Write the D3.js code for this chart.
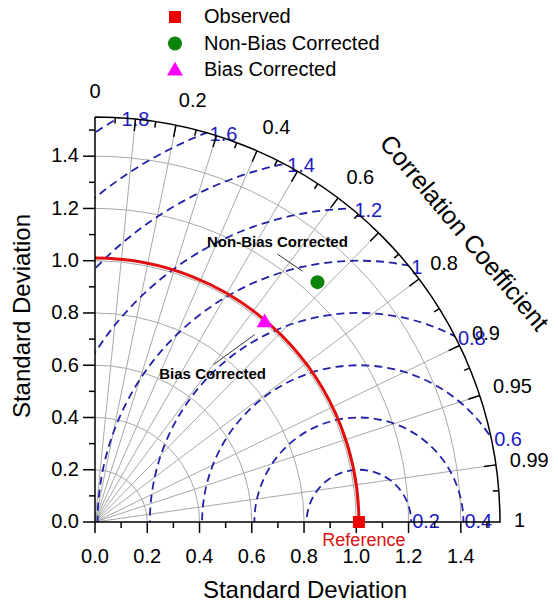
<!DOCTYPE html>
<html>
<head>
<meta charset="utf-8">
<script src="https://cdn.jsdelivr.net/npm/d3@7"></script>
<style>
  body { margin: 0; background: #fff; }
  text { font-family: "Liberation Sans", Arial, sans-serif; }
</style>
</head>
<body>
<div id="chart"></div>
<script>
// chart values
const refStd = 1.01;
const maxStd = 1.55;
const stdTicks = [0, 0.2, 0.4, 0.6, 0.8, 1.0, 1.2, 1.4];
const stdMinor = [0.1, 0.3, 0.5, 0.7, 0.9, 1.1, 1.3, 1.5];
const corrLines = [0.1, 0.2, 0.3, 0.4, 0.5, 0.6, 0.7, 0.8, 0.9, 0.95, 0.99];
const corrLabels = [0, 0.2, 0.4, 0.6, 0.8, 0.9, 0.95, 0.99, 1];
const corrMajor = [0.1, 0.2, 0.3, 0.4, 0.5, 0.6, 0.7, 0.8, 0.9, 0.95, 0.99];
const corrMinor = [0.05, 0.15, 0.25, 0.35, 0.45, 0.55, 0.65, 0.75, 0.85, 0.925, 0.997];
const rmsLevels = [0.2, 0.4, 0.6, 0.8, 1.0, 1.2, 1.4, 1.6, 1.8];
const modelNames = ["Non-Bias Corrected", "Bias Corrected"];
const modelStd = [1.252, 1.002];
const modelCorr = [0.680, 0.648];
const legendNames = ["Observed", "Non-Bias Corrected", "Bias Corrected"];

const width = 558, height = 606;
const ox = 95, oy = 522;

const svg = d3.select("#chart").append("svg")
    .attr("width", width)
    .attr("height", height);

const r = d3.scaleLinear().domain([0, maxStd]).range([0, 405]);
const R = r(maxStd);

function pt(s, c) {
    const a = Math.acos(c);
    return [ox + r(s) * Math.cos(a), oy - r(s) * Math.sin(a)];
}

// clip to quarter disc
svg.append("clipPath").attr("id", "quarter")
  .append("path")
    .attr("d", `M${ox},${oy} L${ox + R},${oy} A${R},${R} 0 0 0 ${ox},${oy - R} Z`);

const grid = svg.append("g").attr("clip-path", "url(#quarter)");

// grey std arcs
grid.selectAll(".sarc")
    .data(stdTicks.filter(d => d > 0))
    .enter().append("path")
    .attr("fill", "none")
    .attr("stroke", "#a8a8a8")
    .attr("stroke-width", 1)
    .attr("d", d => `M${ox + r(d)},${oy} A${r(d)},${r(d)} 0 0 0 ${ox},${oy - r(d)}`);

// grey correlation rays
grid.selectAll(".ray")
    .data(corrLines)
    .enter().append("line")
    .attr("stroke", "#a8a8a8")
    .attr("stroke-width", 1)
    .attr("x1", ox).attr("y1", oy)
    .attr("x2", d => pt(maxStd, d)[0])
    .attr("y2", d => pt(maxStd, d)[1]);

// rms circles
const blue = "#2222a6";
grid.selectAll(".rms")
    .data(rmsLevels)
    .enter().append("circle")
    .attr("cx", ox + r(refStd))
    .attr("cy", oy)
    .attr("r", d => r(d))
    .attr("fill", "none")
    .attr("stroke", blue)
    .attr("stroke-width", 1.8)
    .attr("stroke-dasharray", "8,5");

// reference arc
grid.append("path")
    .attr("fill", "none")
    .attr("stroke", "#e01010")
    .attr("stroke-width", 3)
    .attr("d", `M${ox + r(refStd)},${oy} A${r(refStd)},${r(refStd)} 0 0 0 ${ox},${oy - r(refStd)}`);

// rms labels
svg.selectAll(".rmsLab")
    .data(rmsLevels)
    .enter().append("text")
    .attr("fill", "#1c1cc0")
    .attr("font-size", 20)
    .attr("dominant-baseline", "middle")
    .attr("x", d => {
        if (refStd + d <= maxStd) return ox + r(refStd + d) + 1;
        const x = (maxStd * maxStd + refStd * refStd - d * d) / (2 * refStd);
        return ox + r(x) + 3;
    })
    .attr("y", d => {
        if (refStd + d <= maxStd) return oy + 1;
        const x = (maxStd * maxStd + refStd * refStd - d * d) / (2 * refStd);
        return oy - r(Math.sqrt(maxStd * maxStd - x * x)) + 3;
    })
    .text(d => d === 1 ? "1" : d3.format(".1f")(d));

// axes lines
svg.append("path")
    .attr("fill", "none")
    .attr("stroke", "#000")
    .attr("stroke-width", 1.5)
    .attr("d", `M${ox},${oy - R} L${ox},${oy} L${ox + R},${oy} A${R},${R} 0 0 0 ${ox},${oy - R}`);

// x ticks
svg.selectAll(".xt").data(stdTicks).enter().append("line")
    .attr("stroke", "#000").attr("stroke-width", 1.5)
    .attr("x1", d => ox + r(d)).attr("x2", d => ox + r(d))
    .attr("y1", oy).attr("y2", oy + 11);
svg.selectAll(".xm").data(stdMinor).enter().append("line")
    .attr("stroke", "#000").attr("stroke-width", 1.5)
    .attr("x1", d => ox + r(d)).attr("x2", d => ox + r(d))
    .attr("y1", oy).attr("y2", oy + 6);
svg.selectAll(".xl").data(stdTicks).enter().append("text")
    .attr("font-size", 20).attr("text-anchor", "middle")
    .attr("x", d => ox + r(d)).attr("y", oy + 41)
    .text(d => d3.format(".1f")(d));

// y ticks
svg.selectAll(".yt").data(stdTicks).enter().append("line")
    .attr("stroke", "#000").attr("stroke-width", 1.5)
    .attr("x1", ox - 12).attr("x2", ox)
    .attr("y1", d => oy - r(d)).attr("y2", d => oy - r(d));
svg.selectAll(".ym").data(stdMinor).enter().append("line")
    .attr("stroke", "#000").attr("stroke-width", 1.5)
    .attr("x1", ox - 6).attr("x2", ox)
    .attr("y1", d => oy - r(d)).attr("y2", d => oy - r(d));
svg.selectAll(".yl").data(stdTicks).enter().append("text")
    .attr("font-size", 20).attr("text-anchor", "end")
    .attr("dominant-baseline", "middle")
    .attr("x", ox - 16).attr("y", d => oy - r(d) + 1)
    .text(d => d3.format(".1f")(d));

// correlation ticks (inward)
function ctick(d, len) {
    const a = Math.acos(d);
    return `M${ox + R * Math.cos(a)},${oy - R * Math.sin(a)} L${ox + (R - len) * Math.cos(a)},${oy - (R - len) * Math.sin(a)}`;
}
svg.selectAll(".ct").data(corrMajor).enter().append("path")
    .attr("stroke", "#000").attr("stroke-width", 1.5).attr("d", d => ctick(d, 12));
svg.selectAll(".cm").data(corrMinor).enter().append("path")
    .attr("stroke", "#000").attr("stroke-width", 1.5).attr("d", d => ctick(d, 6));
svg.selectAll(".cl").data(corrLabels).enter().append("text")
    .attr("font-size", 20)
    .attr("dominant-baseline", "middle")
    .attr("text-anchor", d => d < 0.05 ? "middle" : "start")
    .attr("x", d => {
        const a = Math.acos(d);
        return d < 0.05 ? ox : ox + (R + 14) * Math.cos(a);
    })
    .attr("y", d => {
        const a = Math.acos(d);
        return oy - (R + 24) * Math.sin(a);
    })
    .text(d => String(d));

// axis titles
svg.append("text")
    .attr("font-size", 24).attr("text-anchor", "middle")
    .attr("x", 305).attr("y", 598)
    .text("Standard Deviation");
svg.append("text")
    .attr("font-size", 24).attr("text-anchor", "middle")
    .attr("transform", "translate(30,316) rotate(-90)")
    .text("Standard Deviation");
svg.append("text")
    .attr("font-size", 25).attr("text-anchor", "middle")
    .attr("dominant-baseline", "middle")
    .attr("transform", "translate(463,234) rotate(50)")
    .text("Correlation Coefficient");

// annotations with leader lines
const annot = [
    { dx: -40, dy: -39, lx1: -40, ly1: -28, lx2: -15, ly2: -11 },
    { dx: -52, dy: 52, lx1: -51, ly1: 42, lx2: -10, ly2: 12 }
];
modelNames.forEach((name, i) => {
    const p = pt(modelStd[i], modelCorr[i]);
    const a = annot[i];
    svg.append("line")
        .attr("stroke", "#333").attr("stroke-width", 1)
        .attr("x1", p[0] + a.lx1).attr("y1", p[1] + a.ly1)
        .attr("x2", p[0] + a.lx2).attr("y2", p[1] + a.ly2);
    svg.append("text")
        .attr("font-size", 15).attr("font-weight", "bold")
        .attr("text-anchor", "middle").attr("dominant-baseline", "middle")
        .attr("x", p[0] + a.dx).attr("y", p[1] + a.dy)
        .text(name);
});

// reference point
const rp = pt(refStd, 1);
svg.append("rect")
    .attr("x", rp[0] - 6).attr("y", rp[1] - 6)
    .attr("width", 12).attr("height", 12)
    .attr("fill", "#ee0000");
svg.append("text")
    .attr("font-size", 18).attr("fill", "#e01010")
    .attr("text-anchor", "middle")
    .attr("x", rp[0] + 5).attr("y", rp[1] + 24)
    .text("Reference");

// model points
const p0 = pt(modelStd[0], modelCorr[0]);
svg.append("circle").attr("cx", p0[0]).attr("cy", p0[1]).attr("r", 7).attr("fill", "#0a840a");
const p1 = pt(modelStd[1], modelCorr[1]);
svg.append("path")
    .attr("transform", `translate(${p1[0]},${p1[1]})`)
    .attr("d", d3.symbol().type(d3.symbolTriangle).size(110))
    .attr("fill", "#ff00ff");

// legend
const leg = svg.append("g").attr("transform", "translate(175,17)");
leg.selectAll("text").data(legendNames).enter().append("text")
    .attr("font-size", 20)
    .attr("dominant-baseline", "middle")
    .attr("x", 29).attr("y", (d, i) => i * 26.5 + 1)
    .text(d => d);
leg.append("rect").attr("x", -6).attr("y", -6).attr("width", 12).attr("height", 12).attr("fill", "#ee0000");
leg.append("circle").attr("cx", 0).attr("cy", 26.5).attr("r", 7).attr("fill", "#0a840a");
leg.append("path").attr("transform", "translate(0,54)")
    .attr("d", d3.symbol().type(d3.symbolTriangle).size(110))
    .attr("fill", "#ff00ff");
</script>
</body>
</html>
